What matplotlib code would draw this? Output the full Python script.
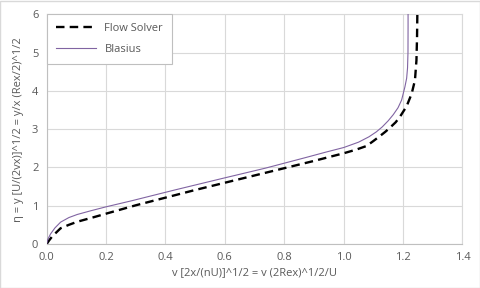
import matplotlib
matplotlib.use("Agg")
import matplotlib.pyplot as plt
from matplotlib.patches import Rectangle

# Flow solver (dashed) readings
solver_x = [0.0, 0.008, 0.019, 0.047, 0.075, 0.103, 0.159, 0.204, 0.3, 0.4, 0.5, 0.6, 0.7, 0.8,
            0.9, 1.0, 1.04, 1.077, 1.10, 1.122, 1.14, 1.156, 1.175, 1.19, 1.212,
            1.229, 1.240, 1.245, 1.247, 1.248]
solver_y = [0.0, 0.09, 0.20, 0.41, 0.50, 0.58, 0.70, 0.80, 1.01, 1.21, 1.41, 1.60, 1.79, 1.98,
            2.17, 2.37, 2.46, 2.56, 2.69, 2.82, 2.93, 3.04, 3.18, 3.33, 3.60,
            3.93, 4.28, 4.8, 5.4, 6.0]

# Blasius readings
blasius_x = [0.0, 0.004, 0.013, 0.028, 0.047, 0.075, 0.103, 0.15, 0.2, 0.287, 0.431, 0.585,
             0.736, 0.873, 0.94, 1.0, 1.05, 1.085, 1.11, 1.13, 1.15, 1.167, 1.183, 1.195,
             1.206, 1.212, 1.215, 1.2165, 1.2168, 1.2168]
blasius_y = [0.0, 0.12, 0.26, 0.42, 0.57, 0.69, 0.77, 0.87, 0.97, 1.13, 1.41, 1.70,
             1.98, 2.26, 2.40, 2.52, 2.66, 2.80, 2.93, 3.06, 3.22, 3.38, 3.56, 3.76,
             4.10, 4.33, 4.6, 5.0, 5.66, 6.0]

x_ticks = [0.0, 0.2, 0.4, 0.6, 0.8, 1.0, 1.2, 1.4]
y_ticks = [0, 1, 2, 3, 4, 5, 6]

plt.rcParams['font.family'] = ['Open Sans', 'DejaVu Sans']
txt = '#595959'

fig = plt.figure(figsize=(4.81, 2.88), dpi=100)
ax = fig.add_axes([0.097, 0.153, 0.8645, 0.797])

ax.plot(solver_x, solver_y, color='black', lw=1.7, linestyle=(0, (3.6, 2.2)),
        label='Flow Solver', zorder=3)
ax.plot(blasius_x, blasius_y, color='#8064A2', lw=0.8, label='Blasius', zorder=4)

ax.set_xlim(0, 1.4)
ax.set_ylim(0, 6)
ax.set_xticks(x_ticks)
ax.set_xticklabels([f'{v:.1f}' for v in x_ticks])
ax.set_yticks(y_ticks)
ax.set_yticklabels([str(v) for v in y_ticks])
ax.grid(True, color='#D9D9D9', lw=0.8)
ax.set_axisbelow(True)
ax.tick_params(length=0, labelsize=8, colors=txt, pad=6)
for s in ax.spines.values():
    s.set_color('#D9D9D9')
    s.set_linewidth(0.8)
ax.spines['bottom'].set_color('#BFBFBF')
ax.spines['left'].set_color('#BFBFBF')

ax.set_xlabel('v [2x/(nU)]^1/2 = v (2Rex)^1/2/U', fontsize=8, color=txt, labelpad=3)
ax.set_ylabel('η = y [U/(2vx)]^1/2 = y/x (Rex/2)^1/2', fontsize=8, color=txt, labelpad=6)

leg = ax.legend(loc='upper left', bbox_to_anchor=(0, 1), borderaxespad=0,
                fancybox=False, edgecolor='#BFBFBF', framealpha=1, fontsize=8,
                handlelength=3.6, labelcolor=txt, borderpad=0.8, labelspacing=0.9)
leg.get_frame().set_linewidth(0.8)

fig.patches.append(Rectangle((0.001, 0.001), 0.997, 0.996, transform=fig.transFigure,
                             fill=False, edgecolor='#D9D9D9', lw=1))

fig.savefig('out.png', dpi=100)
